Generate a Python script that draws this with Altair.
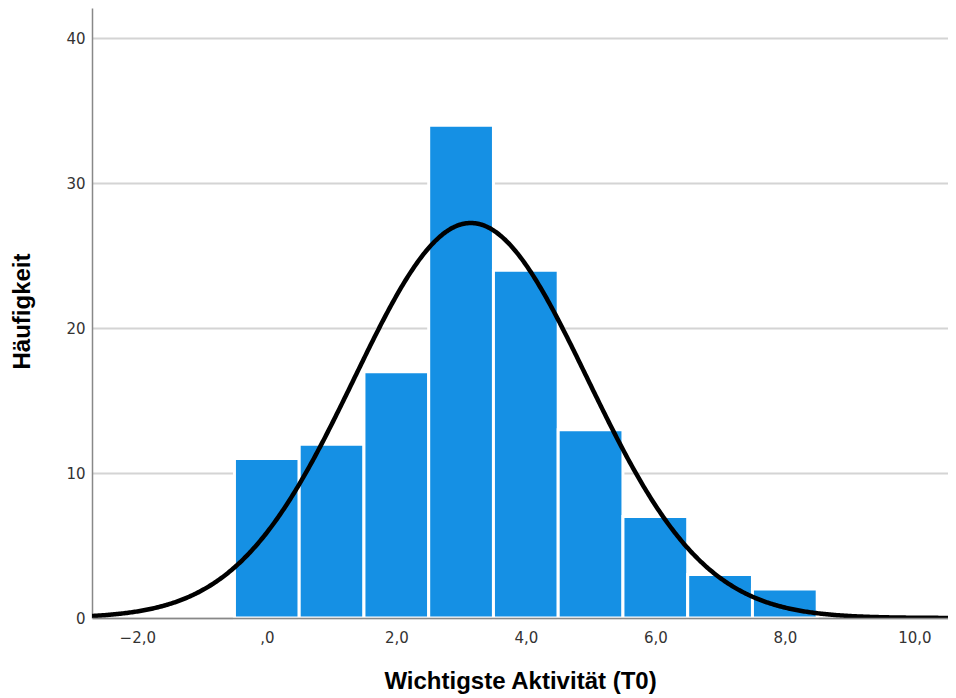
import altair as alt
import pandas as pd

# Histogram bins (centre value) and counts
bin_centers = [0, 1, 2, 3, 4, 5, 6, 7, 8]
counts = [11, 12, 17, 34, 24, 13, 7, 3, 2]
bin_width = 1.0

# Normal-curve parameters (fitted to the distribution)
mean_val = 3.15
sd_val = 1.80
n_total = sum(counts)

x_ticks = [-2, 0, 2, 4, 6, 8, 10]
y_ticks = [0, 10, 20, 30, 40]
x_domain = [-2.7, 10.52]
y_domain = [0, 42.1]

bars_df = pd.DataFrame({
    "start": [c - bin_width / 2 for c in bin_centers],
    "end": [c + bin_width / 2 for c in bin_centers],
    "count": counts,
})

x_scale = alt.Scale(domain=x_domain, nice=False, zero=False)
y_scale = alt.Scale(domain=y_domain, nice=False)

x_axis = alt.Axis(
    title="Wichtigste Aktivität (T0)",
    values=x_ticks,
    labelExpr="datum.value == 0 ? ',0' : replace(format(datum.value, '.1f'), '.', ',')",
    grid=False,
    ticks=False,
    tickSize=0,
    labelPadding=12,
    titleY=70,
    titleBaseline="alphabetic",
    zindex=1,
)
y_axis = alt.Axis(
    title="Häufigkeit",
    values=y_ticks,
    grid=True,
    ticks=False,
    tickSize=0,
    labelPadding=7,
    titleX=-58,
    titleY=303,
    titleAlign="center",
    titleBaseline="bottom",
)

bars = alt.Chart(bars_df).mark_rect(
    color="#1590E4", stroke="white", strokeWidth=3
).encode(
    x=alt.X("start:Q", scale=x_scale, axis=x_axis),
    x2="end:Q",
    y=alt.Y("count:Q", scale=y_scale, axis=y_axis),
    y2=alt.datum(0),
)

curve = alt.Chart(alt.sequence(x_domain[0], x_domain[1] + 0.01, 0.02, as_="x")).transform_calculate(
    y=f"{n_total} * {bin_width} / ({sd_val} * sqrt(2 * PI)) * exp(-0.5 * pow((datum.x - {mean_val}) / {sd_val}, 2))"
).mark_line(color="black", strokeWidth=4.5, clip=True).encode(
    x=alt.X("x:Q", scale=x_scale),
    y=alt.Y("y:Q", scale=y_scale),
)

chart = alt.layer(bars, curve).properties(
    width=856,
    height=610,
    autosize=alt.AutoSizeParams(type="none"),
    padding={"left": 84, "top": 0, "right": 0, "bottom": 80},
).configure_view(
    stroke=None
).configure_axis(
    domainColor="#888888",
    domainWidth=1.5,
    gridColor="#d4d4d4",
    gridWidth=2,
    labelFont="DejaVu Sans",
    labelFontSize=15,
    labelColor="#333333",
    titleFont="Liberation Sans",
    titleFontSize=24,
    titleFontWeight="bold",
    titleColor="black",
)

chart.save("out.html", embed_options={"renderer": "svg", "actions": False})
